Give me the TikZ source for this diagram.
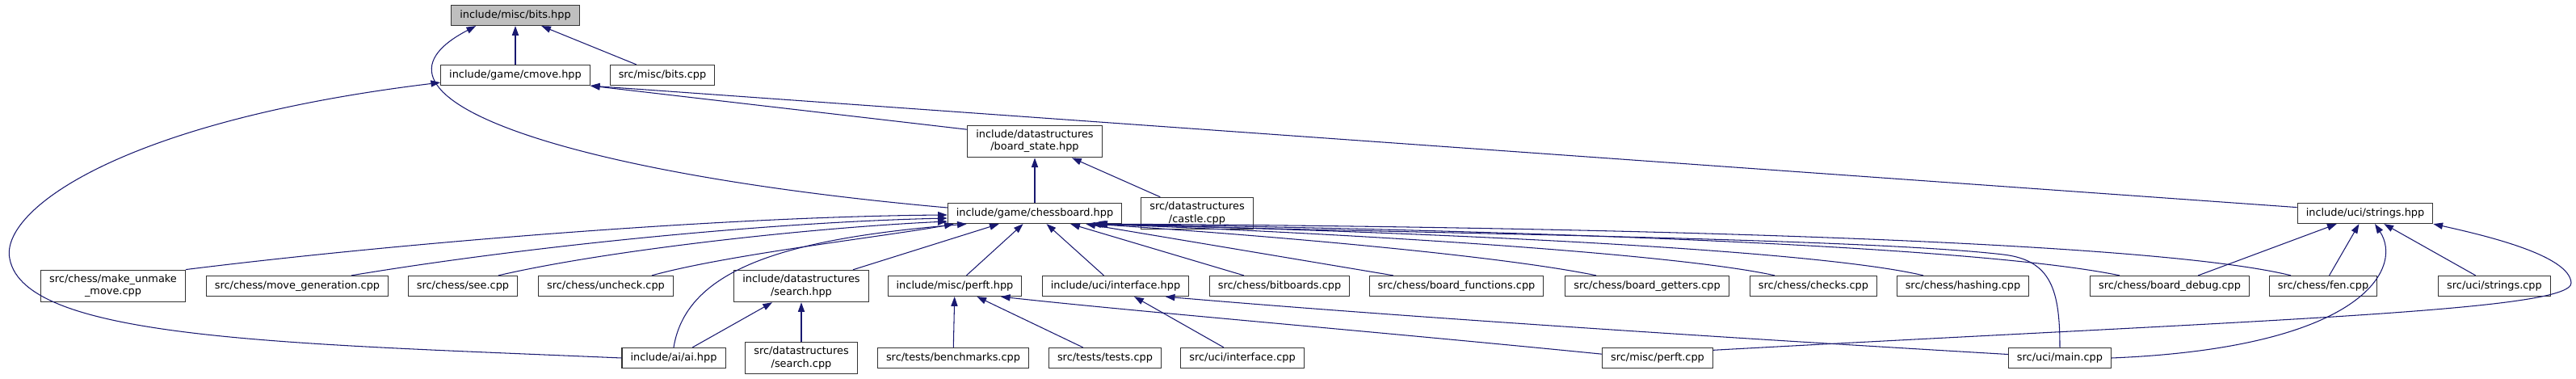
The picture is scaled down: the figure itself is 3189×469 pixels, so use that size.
\documentclass[tikz,border=0pt]{standalone}
\usepackage{fontspec}
\setmainfont{DejaVu Sans}
\usetikzlibrary{arrows.meta, calc}

\definecolor{edgeblue}{HTML}{191970}
\definecolor{rootgray}{HTML}{BFBFBF}

\begin{document}
\begin{tikzpicture}[
        x=0.3mm, y=-0.3mm,
        file/.style={draw=black!80, line width=0.9pt, fill=white, rectangle, align=center, inner xsep=9pt, inner ysep=5pt, minimum height=21.5pt, font=\fontsize{11}{13}\selectfont},
        root/.style={file, fill=rootgray},
        edge/.style={-{Triangle[length=10pt, width=7pt]}, draw=edgeblue, line width=0.9pt}
    ]
        \useasboundingbox (0,0) rectangle (3189,469);

        % --- headers ---
        \node[root] (bitshpp)    at (638,19)   {include/misc/bits.hpp};
        \node[file] (cmove)      at (638,93)   {include/game/cmove.hpp};
        \node[file] (bitscpp)    at (820,93)   {src/misc/bits.cpp};
        \node[file] (boardstate) at (1281,175) {include/datastructures\\/board\_state.hpp};
        \node[file] (chessboard) at (1281,264) {include/game/chessboard.hpp};
        \node[file] (castle)     at (1482,264) {src/datastructures\\/castle.cpp};
        \node[file] (stringshpp) at (2928,264) {include/uci/strings.hpp};

        % --- third row ---
        \node[file] (makeunmake)   at (140,354)  {src/chess/make\_unmake\\\_move.cpp};
        \node[file] (movegen)      at (368,354)  {src/chess/move\_generation.cpp};
        \node[file] (see)          at (573,354)  {src/chess/see.cpp};
        \node[file] (uncheck)      at (750,354)  {src/chess/uncheck.cpp};
        \node[file] (searchhpp)    at (992,354)  {include/datastructures\\/search.hpp};
        \node[file] (perfthpp)     at (1182,354) {include/misc/perft.hpp};
        \node[file] (interfacehpp) at (1381,354) {include/uci/interface.hpp};
        \node[file] (bitboards)    at (1584,354) {src/chess/bitboards.cpp};
        \node[file] (boardfunc)    at (1803,354) {src/chess/board\_functions.cpp};
        \node[file] (boardget)     at (2039,354) {src/chess/board\_getters.cpp};
        \node[file] (checks)       at (2245,354) {src/chess/checks.cpp};
        \node[file] (hashing)      at (2430,354) {src/chess/hashing.cpp};
        \node[file] (boarddebug)   at (2686,354) {src/chess/board\_debug.cpp};
        \node[file] (fen)          at (2876,354) {src/chess/fen.cpp};
        \node[file] (stringscpp)   at (3088,354) {src/uci/strings.cpp};

        % --- bottom row ---
        \node[file] (ai)           at (834,443)  {include/ai/ai.hpp};
        \node[file] (searchcpp)    at (992,443)  {src/datastructures\\/search.cpp};
        \node[file] (benchmarks)   at (1180,443) {src/tests/benchmarks.cpp};
        \node[file] (tests)        at (1368,443) {src/tests/tests.cpp};
        \node[file] (interfacecpp) at (1538,443) {src/uci/interface.cpp};
        \node[file] (perftcpp)     at (2052,443) {src/misc/perft.cpp};
        \node[file] (maincpp)      at (2550,443) {src/uci/main.cpp};

        % --- includes of bits.hpp and cmove.hpp ---
        \draw[edge] (cmove) -- (bitshpp);
        \draw[edge] (bitscpp) -- (bitshpp);
        \draw[edge] ($(chessboard.west)+(0,-7)$) .. controls (700,215) and (420,120) .. ($(bitshpp.south west)+(31,0)$);
        \draw[edge] (boardstate.170) -- (cmove.south east);
        \draw[edge] (stringshpp.175) -- (cmove.south east);
        \draw[edge] (ai.west) .. controls (350,425) and (30,420) .. (12,320)
            .. controls (0,260) and (150,150) .. ($(cmove.south west)+(0,-4)$);

        % --- includes of board_state.hpp ---
        \draw[edge] (chessboard) -- (boardstate);
        \draw[edge] (castle) -- (boardstate);

        % --- includes of chessboard.hpp ---
        \draw[edge] (makeunmake.north east) .. controls (500,300) and (900,268) .. ($(chessboard.west)+(0,2)$);
        \draw[edge] ($(movegen.north)+(67,0)$) .. controls (650,305) and (950,275) .. ($(chessboard.west)+(0,6)$);
        \draw[edge] ($(see.north)+(44,0)$) .. controls (750,310) and (1000,282) .. ($(chessboard.west)+(0,10)$);
        \draw[edge] ($(uncheck.north)+(57,0)$) .. controls (900,315) and (1100,292) .. ($(chessboard.south west)+(8,0)$);
        \draw[edge] (ai.north) .. controls (850,330) and (980,295) .. ($(chessboard.south west)+(24,0)$);
        \draw[edge] ($(searchhpp.north)+(64,0)$) -- ($(chessboard.south west)+(64,0)$);
        \draw[edge] (perfthpp) -- (chessboard);
        \draw[edge] (interfacehpp) -- (chessboard);
        \draw[edge] (bitboards) -- (chessboard);
        \draw[edge] (boardfunc) -- ($(chessboard.south east)+(-45,0)$);
        \draw[edge] ($(boardget.north)+(-63,0)$) .. controls (1850,315) and (1550,290) .. ($(chessboard.south east)+(-38,0)$);
        \draw[edge] ($(checks.north)+(-48,0)$) .. controls (2080,315) and (1700,290) .. ($(chessboard.south east)+(-36,0)$);
        \draw[edge] ($(hashing.north)+(-49,0)$) .. controls (2250,310) and (1800,288) .. ($(chessboard.south east)+(-34,0)$);
        \draw[edge] ($(boarddebug.north)+(-62,0)$) .. controls (2450,305) and (1900,285) .. ($(chessboard.south east)+(-32,0)$);
        \draw[edge] ($(fen.north)+(-40,0)$) .. controls (2650,295) and (1900,280) .. ($(chessboard.south east)+(-30,0)$);
        \draw[edge] (maincpp.north) .. controls (2550,360) and (2540,322) .. (2480,315)
            .. controls (2300,294) and (1700,288) .. ($(chessboard.south east)+(-33,0)$);

        % --- includes of strings.hpp ---
        \draw[edge] (boarddebug) -- (stringshpp);
        \draw[edge] (fen) -- (stringshpp);
        \draw[edge] (stringscpp) -- (stringshpp);
        \draw[edge] (maincpp.east) .. controls (2930,430) and (2975,330) .. ($(stringshpp.south)+(12,0)$);
        \draw[edge] (perftcpp.8) .. controls (2800,396) and (3185,385) .. (3183,350)
            .. controls (3181,315) and (3070,290) .. (stringshpp.south east);

        % --- search.hpp, perft.hpp, interface.hpp ---
        \draw[edge] (ai) -- (searchhpp);
        \draw[edge] (searchcpp) -- (searchhpp);
        \draw[edge] (benchmarks) -- (perfthpp);
        \draw[edge] (tests) -- (perfthpp);
        \draw[edge] (perftcpp.176) .. controls (1700,410) and (1400,385) .. (perfthpp.-13);
        \draw[edge] (interfacecpp) -- (interfacehpp);
        \draw[edge] (maincpp.176) .. controls (2000,410) and (1650,385) .. (interfacehpp.-12);

    \end{tikzpicture}
\end{document}
